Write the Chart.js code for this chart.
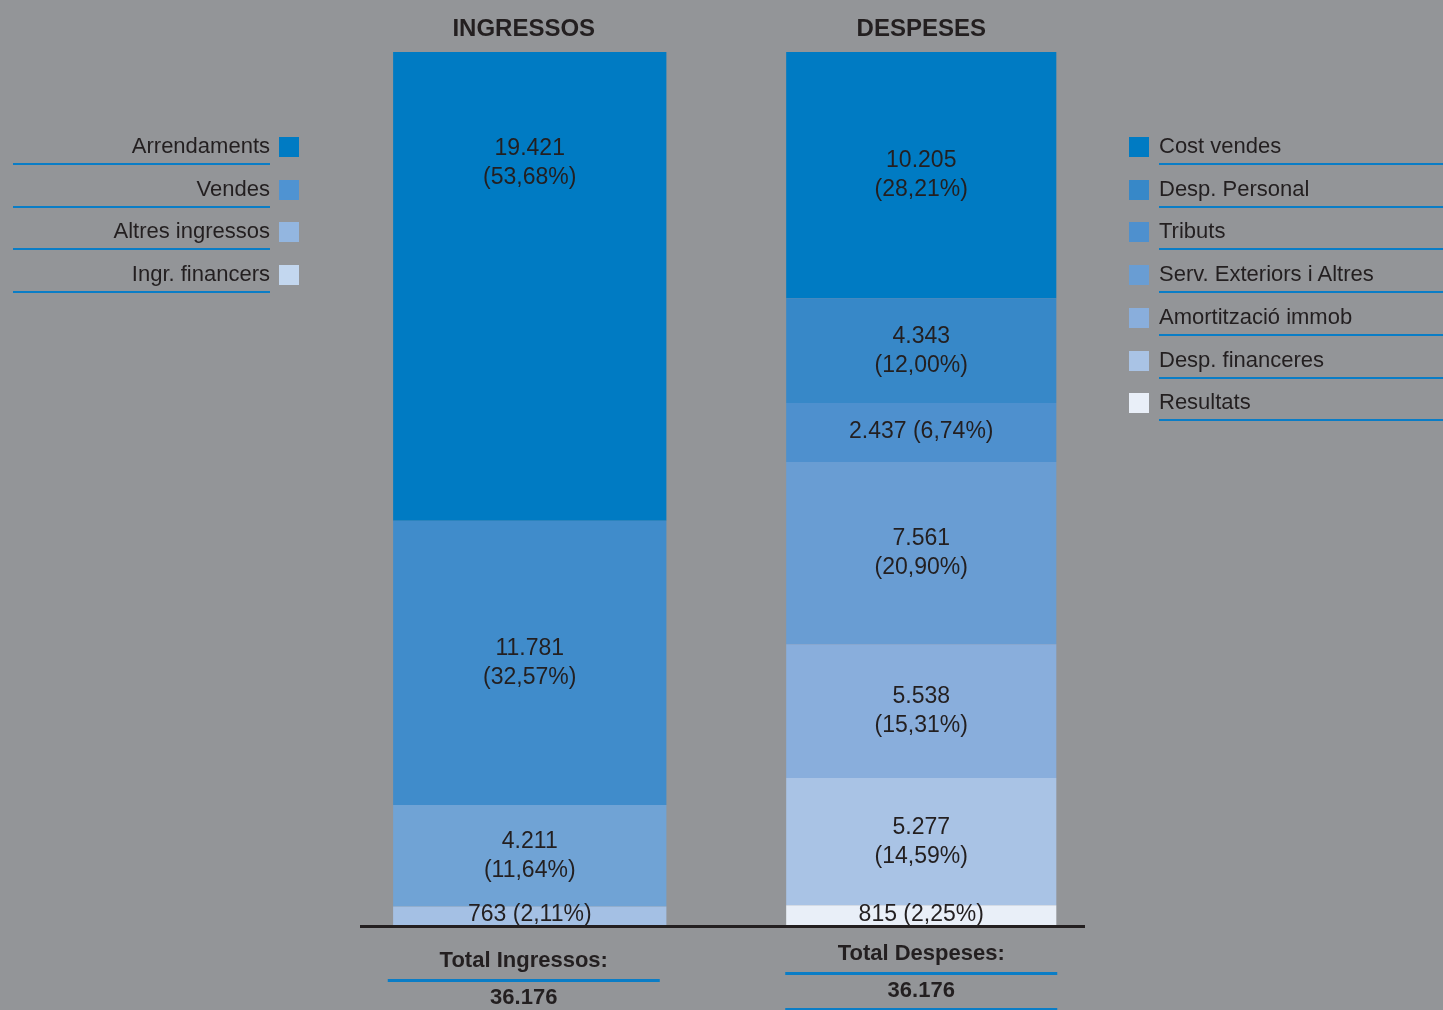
<!DOCTYPE html>
<html>
<head>
<meta charset="utf-8">
<script src="https://cdn.jsdelivr.net/npm/chart.js@4/dist/chart.umd.min.js"></script>
<style>
html, body { margin: 0; padding: 0; background: #939598; }
#wrap { position: relative; width: 1443px; height: 1010px; overflow: hidden;
        font-family: "Liberation Sans", Arial, Helvetica, sans-serif; color: #231f20; }
#wrap canvas { position: absolute; left: 0; top: 0; }
.leg { position: absolute; font-size: 22px; line-height: 20px; height: 20px; white-space: nowrap; }
.sw { position: absolute; width: 20px; height: 20px; }
.rule { position: absolute; height: 2px; background: #0a7dc6; }
</style>
</head>
<body>
<div id="wrap"><canvas id="chart" width="1443" height="1010"></canvas></div>
<script>
// --- DATA ---
const categories = ['INGRESSOS', 'DESPESES'];
const totalLabels = ['Total Ingressos:', 'Total Despeses:'];

// top of the stack first
const ingressosLabels = ['Arrendaments', 'Vendes', 'Altres ingressos', 'Ingr. financers'];
const ingressosValues = [19421, 11781, 4211, 763];
const ingressosPct = ['53,68', '32,57', '11,64', '2,11'];

const despesesLabels = ['Cost vendes', 'Desp. Personal', 'Tributs', 'Serv. Exteriors i Altres',
                        'Amortització immob', 'Desp. financeres', 'Resultats'];
const despesesValues = [10205, 4343, 2437, 7561, 5538, 5277, 815];
const despesesPct = ['28,21', '12,00', '6,74', '20,90', '15,31', '14,59', '2,25'];

// --- STYLE ---
const TEXT = '#231f20';
const RULE = '#0a7dc6';
const FONT = '"Liberation Sans", Arial, Helvetica, sans-serif';
const ingressosColors = ['#007bc3', '#408ccb', '#70a3d5', '#a4c0e4'];
const ingressosLegend = ['#007bc3', '#4f93d2', '#93b6e0', '#c3d7ef'];
const despesesColors = ['#007bc3', '#3788c8', '#4e90ce', '#699dd3', '#89aedc', '#a9c3e5', '#e9eff8'];

const fmt = n => String(n).replace(/\B(?=(\d{3})+(?!\d))/g, '.');

// --- DATASETS (bottom of stack first) ---
const datasets = [];
for (let i = ingressosValues.length - 1; i >= 0; i--) {
    datasets.push({ label: ingressosLabels[i], data: [ingressosValues[i], null],
        backgroundColor: ingressosColors[i], pct: ingressosPct[i], barPercentage: 0.698 });
}
for (let i = despesesValues.length - 1; i >= 0; i--) {
    datasets.push({ label: despesesLabels[i], data: [null, despesesValues[i]],
        backgroundColor: despesesColors[i], pct: despesesPct[i], barPercentage: 0.69 });
}
const totals = [ingressosValues.reduce((a, b) => a + b, 0), despesesValues.reduce((a, b) => a + b, 0)];

// --- LABELS, TITLES, TOTALS ---
const decorations = {
    id: 'decorations',
    afterDatasetsDraw(chart) {
        const ctx = chart.ctx, area = chart.chartArea, xs = chart.scales.x;
        ctx.save();
        ctx.fillStyle = TEXT; ctx.textAlign = 'center'; ctx.textBaseline = 'middle';

        // values inside segments
        ctx.font = '23px ' + FONT;
        chart.data.datasets.forEach((ds, i) => {
            chart.getDatasetMeta(i).data.forEach((el, j) => {
                if (ds.data[j] == null) return;
                const top = el.y, bottom = el.base, h = bottom - top;
                const v = fmt(ds.data[j]), p = '(' + ds.pct + '%)';
                if (h < 80) { ctx.fillText(v + ' ' + p, el.x, (top + bottom) / 2 - 1); return; }
                const cy = h > 400 ? top + 111 : (top + bottom) / 2;
                ctx.fillText(v, el.x, cy - 14.5);
                ctx.fillText(p, el.x, cy + 14.5);
            });
        });

        // baseline
        ctx.fillStyle = TEXT;
        ctx.fillRect(area.left + 26, area.bottom, area.right - area.left - 58, 3);

        // column titles and totals
        const totalsY = [961, 954];
        categories.forEach((cat, k) => {
            const cx = xs.getPixelForValue(k) - (k === 0 ? 6 : 0);
            ctx.fillStyle = TEXT;
            ctx.font = 'bold 24px ' + FONT;
            ctx.fillText(cat, cx, 29);
            ctx.font = 'bold 22px ' + FONT;
            const ty = totalsY[k];
            ctx.fillText(totalLabels[k], cx, ty);
            ctx.fillText(fmt(totals[k]), cx, ty + 37);
            ctx.fillStyle = RULE;
            ctx.fillRect(cx - 136, ty + 18, 272, 3);
            if (k === 1) ctx.fillRect(cx - 136, ty + 54, 272, 3);
        });
        ctx.restore();
    }
};

new Chart(document.getElementById('chart'), {
    type: 'bar',
    data: { labels: categories, datasets },
    options: {
        responsive: false, animation: false,
        layout: { padding: { left: 334, right: 326, top: 52, bottom: 85 } },
        datasets: { bar: { categoryPercentage: 1, borderWidth: 0 } },
        scales: {
            x: { stacked: true, display: false },
            y: { stacked: true, display: false, min: 0, max: totals[0] }
        },
        plugins: { legend: { display: false }, tooltip: { enabled: false } }
    },
    plugins: [decorations]
});

// --- LEGENDS ---
const wrap = document.getElementById('wrap');
const add = (cls, css, text) => {
    const d = document.createElement('div'); d.className = cls;
    Object.assign(d.style, css); if (text) d.textContent = text;
    wrap.appendChild(d);
};
const ROW = 42.7;
ingressosLabels.forEach((name, i) => {
    const y = 137 + i * ROW;
    add('leg', { right: (1443 - 270) + 'px', top: (y - 1) + 'px', textAlign: 'right' }, name);
    add('sw', { left: '279px', top: y + 'px', background: ingressosLegend[i] });
    add('rule', { left: '13px', width: '257px', top: (y + 26) + 'px' });
});
despesesLabels.forEach((name, i) => {
    const y = 137 + i * ROW;
    add('sw', { left: '1129px', top: y + 'px', background: despesesColors[i] });
    add('leg', { left: '1159px', top: (y - 1) + 'px' }, name);
    add('rule', { left: '1159px', width: '284px', top: (y + 26) + 'px' });
});
</script>
</body>
</html>
